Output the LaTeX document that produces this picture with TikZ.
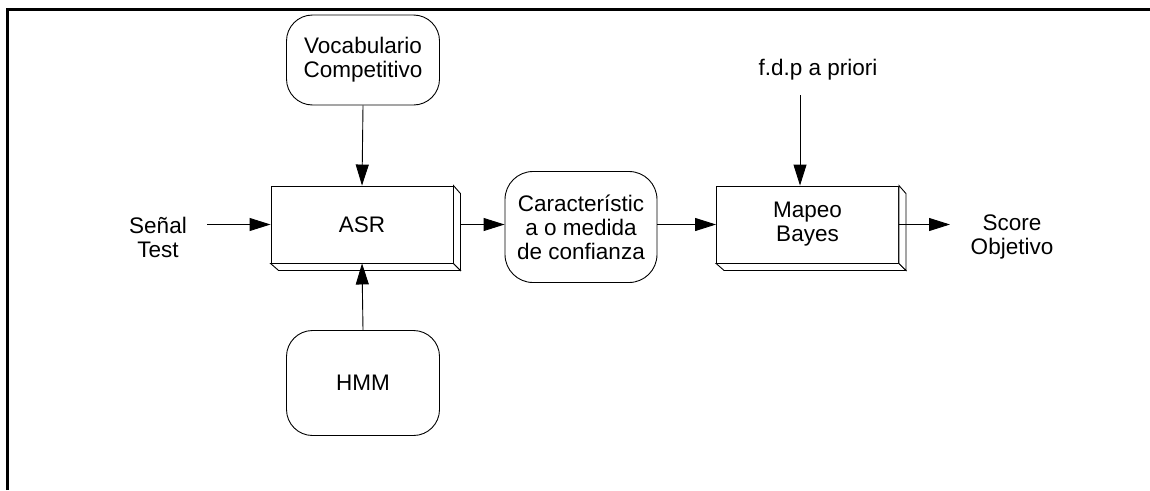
\documentclass[tikz,border=0pt]{standalone}
\usepackage{fontspec}
\setmainfont{Liberation Sans}
\usetikzlibrary{arrows.meta,calc}
\begin{document}
\begin{tikzpicture}[x=1pt,y=-1pt,
  every node/.style={font=\fontsize{22.5}{24}\selectfont, align=center, inner sep=0pt},
  blk/.style={draw, line width=0.9pt, fill=white, minimum width=182pt, minimum height=77pt},
  rbox/.style={draw, line width=0.9pt, rounded corners=26pt, minimum width=153pt},
  bevel/.style={draw, line width=0.9pt, fill=white},
  arr/.style={line width=0.9pt, -{Triangle[length=21pt,width=13pt]}}
]
\useasboundingbox (0,0) rectangle (1150,490);
\draw[line width=3pt] (7,490) -- (7,9) -- (1150,9);

% main blocks
\node[blk] (asr) at (362,224.5) {ASR};
\node[blk] (map) at (807.5,224.5) {Mapeo\\Bayes};
\foreach \b in {asr,map}{
  \draw[bevel] (\b.south west) -- ($(\b.south west)+(8,7)$) -- ($(\b.south east)+(7,7)$) -- (\b.south east) -- cycle;
  \draw[bevel] (\b.north east) -- ($(\b.north east)+(7,8)$) -- ($(\b.south east)+(7,7)$) -- (\b.south east) -- cycle;
}

% rounded boxes
\node[rbox, minimum height=90pt] (voc) at (363,60) {Vocabulario\\Competitivo};
\node[rbox, minimum height=105pt] (hmm) at (363,383) {HMM};
\node[rbox, minimum width=152pt, minimum height=111pt, rounded corners=28pt] (car) at (581,227) {Característic\\a o medida\\de confianza};

% texts
\node (sen) at (158,237) {Señal\\Test};
\node (sco) at (1012,237) {Score\\Objetivo};
\node (fdp) at (818,70) {f.d.p a priori};

\coordinate (senS) at (207,224.5);
\coordinate (fdpS) at (800,95);
\coordinate (scoE) at (950,224.5);

% connectors
\draw[arr] (senS) -- (asr.west);
\draw[arr] (voc.south) -- (asr.north);
\draw[arr] (hmm.north) -- (asr.south);
\draw[arr] ($(asr.east)+(7,0)$) -- (car.west |- asr.east);
\draw[arr] (car.east |- map.west) -- (map.west);
\draw[arr] (fdpS) -- (fdpS |- map.north);
\draw[arr] (map.east) -- (scoE);
\end{tikzpicture}
\end{document}
